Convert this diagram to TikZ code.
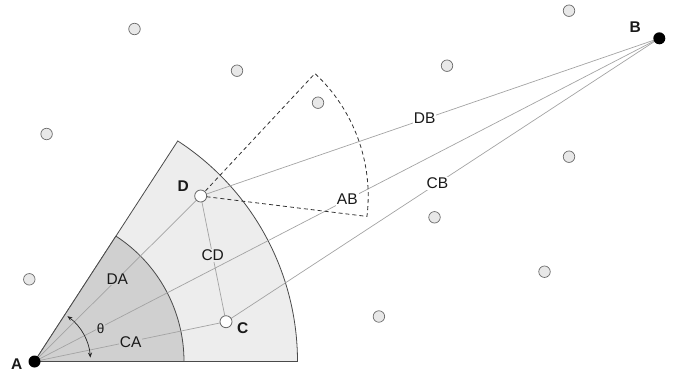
\documentclass[tikz,border=0pt]{standalone}
\usepackage{fontspec}
\setmainfont{Liberation Sans}
\usetikzlibrary{arrows.meta,calc}
\definecolor{outerfill}{HTML}{EDEDED}
\definecolor{innerfill}{HTML}{D0D0D0}
\definecolor{edgegray}{HTML}{A3A3A3}
\definecolor{rimgray}{HTML}{4A4A4A}
\definecolor{dotfill}{HTML}{E8E8E8}
\definecolor{dotrim}{HTML}{6A6A6A}
\tikzset{
  rim/.style={draw=rimgray, line width=0.8pt},
  link/.style={draw=edgegray, line width=0.7pt},
  fov/.style={draw=black!80, line width=0.8pt, dash pattern=on 4pt off 3pt},
  sensor/.style={circle, draw=dotrim, fill=dotfill, line width=0.7pt, minimum size=11.5pt, inner sep=0pt},
  keynode/.style={circle, draw=dotrim, fill=white, line width=0.8pt, minimum size=12pt, inner sep=0pt},
  anchorpt/.style={circle, fill=black, minimum size=12pt, inner sep=0pt},
  lbl/.style={inner sep=1pt, fill=white, font=\fontsize{15.5}{17}\selectfont, text=black!90},
  blbl/.style={inner sep=0pt, font=\fontsize{15.5}{17}\selectfont\bfseries, text=black!90},
}
\begin{document}
\begin{tikzpicture}[x=1pt,y=-1pt]
\useasboundingbox (0,0) rectangle (674,373);
% key positions
\coordinate (A) at (34.5,361.5);
\coordinate (B) at (659.3,38.3);
\coordinate (D) at (200.7,196);
\coordinate (C) at (226,321.7);
% sectors around A
\filldraw[rim, fill=outerfill] (A) -- ++(0:263) arc[start angle=0, end angle=-57, radius=263] -- cycle;
\filldraw[rim, fill=innerfill] (A) -- ++(0:149.5) arc[start angle=0, end angle=-57, radius=149.5] -- cycle;
% connectors
\draw[link] (A) -- (B);
\draw[link] (A) -- (D);
\draw[link] (A) -- (C);
\draw[link] (D) -- (B);
\draw[link] (C) -- (B);
\draw[link] (D) -- (C);
% dashed sector around D
\draw[fov] (D) -- ++(-47:167.5) arc[start angle=-47, end angle=7, radius=167.5] -- cycle;
% theta arc
\coordinate (thstart) at ($(A)+(-54:56)$);
\draw[black!85, line width=0.7pt, {Stealth[length=5pt,width=4pt]}-{Stealth[length=5pt,width=4pt]}]
  (thstart) arc[start angle=-54, end angle=-4, radius=56];
% other sensors
\node[sensor] (s1) at (569,10.7) {};
\node[sensor] (s2) at (134.5,29) {};
\node[sensor] (s3) at (237,70.7) {};
\node[sensor] (s4) at (447,65.7) {};
\node[sensor] (s5) at (318,102.7) {};
\node[sensor] (s6) at (46.6,134) {};
\node[sensor] (s7) at (569,156.7) {};
\node[sensor] (s8) at (434.5,217.3) {};
\node[sensor] (s9) at (544.5,271.7) {};
\node[sensor] (s10) at (378.9,316.5) {};
\node[sensor] (s11) at (29.3,279.3) {};
% key nodes
\node[keynode] (nD) at (D) {};
\node[keynode] (nC) at (C) {};
\node[anchorpt] (nA) at (A) {};
\node[anchorpt] (nB) at (B) {};
% labels
\node[blbl] (lA) at (16.7,364.3) {A};
\node[blbl] (lB) at (635.3,27.3) {B};
\node[blbl] (lD) at (183.3,186) {D};
\node[blbl] (lC) at (242.7,328.3) {C};
\node[lbl, fill=innerfill] (lDA) at (117.3,279) {DA};
\node[lbl, fill=innerfill] (lCA) at (130.7,342.3) {CA};
\node[lbl, fill=outerfill] (lCD) at (212.7,255.3) {CD};
\node[lbl] (lAB) at (347.3,199.3) {AB};
\node[lbl] (lDB) at (424.6,118.3) {DB};
\node[lbl] (lCB) at (437.5,183.3) {CB};
\node[inner sep=1pt, fill=innerfill, font=\fontsize{13.5}{15}\selectfont, text=black!90] (th) at (100.7,329) {θ};
\end{tikzpicture}
\end{document}
